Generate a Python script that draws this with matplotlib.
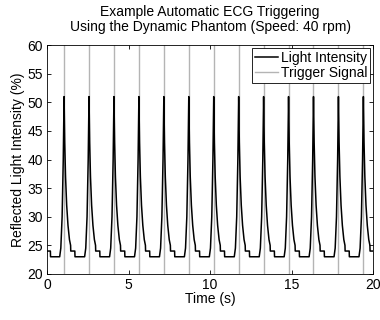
import numpy as np
import matplotlib
matplotlib.use('Agg')
import matplotlib.pyplot as plt

# trigger times (s)
trigger_times = [1.04, 2.57, 4.10, 5.63, 7.16, 8.69, 10.22, 11.75, 13.28, 14.81, 16.34, 17.87, 19.40]

# one pulse of the light signal, offsets relative to each trigger (s) and values (%)
pulse_offsets = [-0.49, -0.28, -0.27, -0.20, -0.12, -0.05, 0.0, 0.04, 0.09, 0.16, 0.24, 0.33, 0.40, 0.41, 0.66, 0.67]
pulse_values = [23.0, 23.0, 23.0, 24.5, 30.0, 40.0, 51.0, 43.0, 37.0, 32.0, 28.5, 26.0, 25.0, 24.0, 24.0, 23.0]

# start of the record (before first pulse)
start_t = [0.0, 0.20, 0.21]
start_v = [24.0, 24.0, 23.0]

plt.rcParams['font.family'] = ['Liberation Sans', 'DejaVu Sans']


def build_signal():
    t = list(start_t)
    v = list(start_v)
    for tt in trigger_times:
        for off, val in zip(pulse_offsets, pulse_values):
            x = tt + off
            if x > t[-1] and x <= 20:
                t.append(x)
                v.append(val)
    t.append(20.0)
    v.append(v[-1])
    return t, v


def main():
    t, v = build_signal()

    fig = plt.figure(figsize=(3.8, 3.2), dpi=100)
    ax = fig.add_axes([0.124, 0.144, 0.858, 0.715])

    ax.plot(t, v, color='k', lw=1.1, label='Light Intensity', zorder=3)
    for i, tt in enumerate(trigger_times):
        ax.axvline(tt, color='#b4b4b4', lw=1.0, zorder=2,
                   label='Trigger Signal' if i == 0 else None)

    ax.set_xlim(0, 20)
    ax.set_ylim(20, 60)
    ax.set_xticks([0, 5, 10, 15, 20])
    ax.set_yticks(np.arange(20, 61, 5))
    ax.tick_params(direction='in', top=True, right=True, labelsize=10, length=3, width=0.6, pad=3)
    for s in ax.spines.values():
        s.set_linewidth(0.6)

    ax.set_xlabel('Time (s)', fontsize=10, labelpad=0)
    ax.set_ylabel('Reflected Light Intensity (%)', fontsize=10, labelpad=2)
    ax.set_title('Example Automatic ECG Triggering\nUsing the Dynamic Phantom (Speed: 40 rpm)',
                 fontsize=10, pad=10, linespacing=1.1)

    leg = ax.legend(loc='upper right', fontsize=10, fancybox=False, edgecolor='k',
                    framealpha=1, handlelength=1.7, borderaxespad=0.2,
                    borderpad=0.2, labelspacing=0.1, handletextpad=0.2)
    leg.get_frame().set_linewidth(0.6)

    fig.savefig('out.png', dpi=100)
    plt.close(fig)


if __name__ == '__main__':
    main()
